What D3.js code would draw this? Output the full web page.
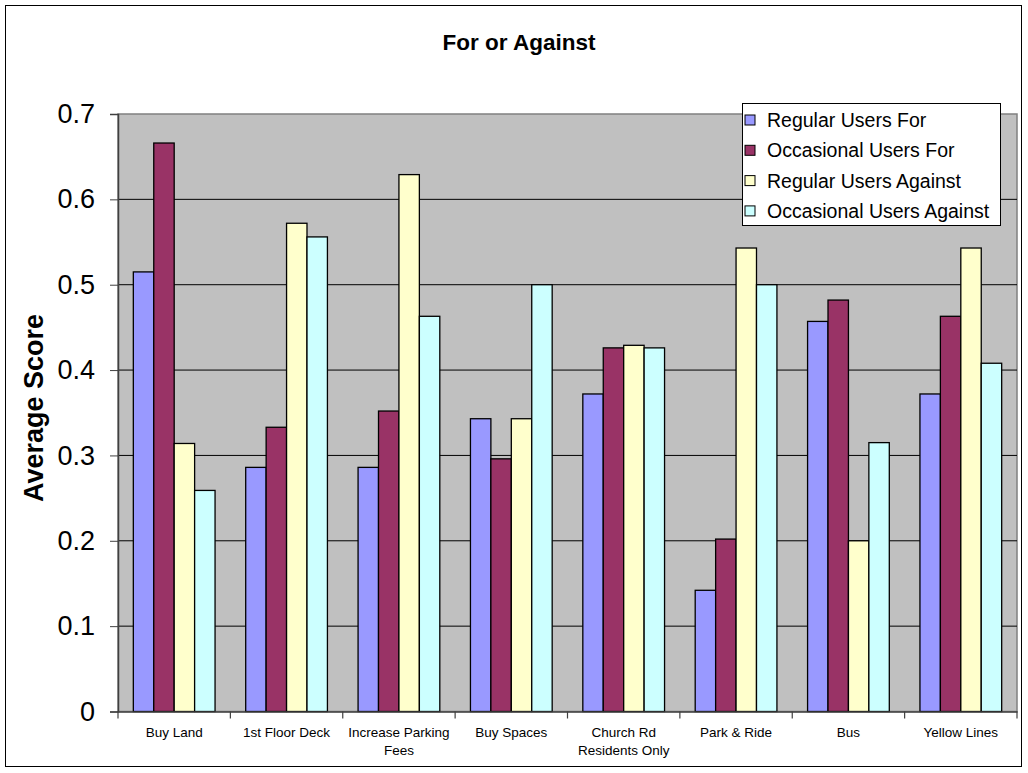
<!DOCTYPE html>
<html>
<head>
<meta charset="utf-8">
<script src="https://cdn.jsdelivr.net/npm/d3@7"></script>
<style>
  body { margin: 0; background: #fff; }
  svg { font-family: "Liberation Sans", Arial, sans-serif; }
</style>
</head>
<body>
<svg width="1028" height="773"></svg>
<script>
// data
const categories = ["Buy Land", "1st Floor Deck", "Increase Parking Fees", "Buy Spaces",
    "Church Rd Residents Only", "Park & Ride", "Bus", "Yellow  Lines"];
const categoryLines = [["Buy Land"], ["1st Floor Deck"], ["Increase Parking", "Fees"], ["Buy Spaces"],
    ["Church Rd", "Residents Only"], ["Park & Ride"], ["Bus"], ["Yellow  Lines"]];
const seriesNames = ["Regular Users For", "Occasional Users For", "Regular Users Against", "Occasional Users Against"];
const regularFor = [0.515, 0.286, 0.286, 0.343, 0.372, 0.142, 0.457, 0.372];
const occasionalFor = [0.666, 0.333, 0.352, 0.296, 0.426, 0.202, 0.482, 0.463];
const regularAgainst = [0.314, 0.572, 0.629, 0.343, 0.429, 0.543, 0.200, 0.543];
const occasionalAgainst = [0.259, 0.556, 0.463, 0.500, 0.426, 0.500, 0.315, 0.408];
const yTicks = [0, 0.1, 0.2, 0.3, 0.4, 0.5, 0.6, 0.7];
const colors = ["#9999ff", "#993366", "#ffffcc", "#ccffff"];

const series = [regularFor, occasionalFor, regularAgainst, occasionalAgainst];

const svg = d3.select("svg");
const width = +svg.attr("width");
const height = +svg.attr("height");

const plot = { left: 118, top: 114, right: 1017, bottom: 711.5 };

// outer chart frame
svg.append("rect")
    .attr("x", 5.5).attr("y", 5.5)
    .attr("width", width - 12).attr("height", height - 12)
    .attr("fill", "#fff").attr("stroke", "#000").attr("stroke-width", 1);

svg.append("text")
    .attr("x", 519).attr("y", 50)
    .attr("text-anchor", "middle")
    .attr("font-size", 22.5).attr("font-weight", "bold")
    .text("For or Against");

const x0 = d3.scaleBand()
    .domain(categories)
    .range([plot.left, plot.right])
    .paddingInner(0).paddingOuter(0);

// excel style: gap width 150% split on both sides of the group
const x1 = d3.scaleBand()
    .domain(d3.range(series.length))
    .range([0, x0.bandwidth()])
    .paddingInner(0)
    .paddingOuter(0.75);

const y = d3.scaleLinear()
    .domain([0, 0.7])
    .range([plot.bottom, plot.top]);

// plot area
svg.append("rect")
    .attr("x", plot.left).attr("y", plot.top)
    .attr("width", plot.right - plot.left).attr("height", plot.bottom - plot.top)
    .attr("fill", "#c0c0c0").attr("stroke", "#808080").attr("stroke-width", 1.5);

// gridlines
svg.append("g")
    .selectAll("line")
    .data(yTicks.filter(t => t > 0 && t < 0.7))
    .join("line")
    .attr("x1", plot.left).attr("x2", plot.right)
    .attr("y1", d => y(d)).attr("y2", d => y(d))
    .attr("stroke", "#000").attr("stroke-width", 1);

// bars
const groups = svg.append("g")
    .selectAll("g")
    .data(categories)
    .join("g")
    .attr("transform", d => `translate(${x0(d)},0)`);

groups.selectAll("rect")
    .data((d, i) => series.map((s, k) => ({ k, v: s[i] })))
    .join("rect")
    .attr("x", d => x1(d.k))
    .attr("width", x1.bandwidth())
    .attr("y", d => y(d.v))
    .attr("height", d => y(0) - y(d.v))
    .attr("fill", d => colors[d.k])
    .attr("stroke", "#000").attr("stroke-width", 1.3);

// y axis
const yAxis = svg.append("g")
    .attr("transform", `translate(${plot.left},0)`)
    .call(d3.axisLeft(y).tickValues(yTicks).tickSize(8).tickPadding(15)
        .tickFormat(d => d === 0 ? "0" : d3.format(".1f")(d)));
yAxis.select(".domain").attr("stroke", "#404040").attr("stroke-width", 1.5);
yAxis.selectAll(".tick line").attr("stroke", "#404040");
yAxis.selectAll("text")
    .attr("font-size", 27).attr("font-family", "Liberation Sans, Arial, sans-serif")
    .attr("fill", "#000");

// x axis
const xAxis = svg.append("g")
    .attr("transform", `translate(0,${plot.bottom})`)
    .call(d3.axisBottom(x0).tickSize(0).tickFormat(""));
xAxis.select(".domain").attr("stroke", "#404040").attr("stroke-width", 1.5);
xAxis.selectAll(".sep")
    .data(d3.range(categories.length + 1))
    .join("line")
    .attr("class", "sep")
    .attr("x1", i => plot.left + i * x0.step())
    .attr("x2", i => plot.left + i * x0.step())
    .attr("y1", 0).attr("y2", 7)
    .attr("stroke", "#404040").attr("stroke-width", 1.2);

const catLabels = svg.append("g")
    .selectAll("text")
    .data(categories)
    .join("text")
    .attr("x", d => x0(d) + x0.bandwidth() / 2)
    .attr("y", 736.5)
    .attr("text-anchor", "middle")
    .attr("font-size", 13.5);
catLabels.selectAll("tspan")
    .data((d, i) => categoryLines[i])
    .join("tspan")
    .attr("x", function () { return d3.select(this.parentNode).attr("x"); })
    .attr("dy", (d, i) => i === 0 ? 0 : 18.5)
    .text(d => d);

// y axis title
svg.append("text")
    .attr("transform", "translate(43,408) rotate(-90)")
    .attr("text-anchor", "middle")
    .attr("font-size", 27).attr("font-weight", "bold")
    .text("Average Score");

// legend
const legend = svg.append("g").attr("transform", "translate(742,103)");
legend.append("rect")
    .attr("x", 0.5).attr("y", 0.5)
    .attr("width", 258).attr("height", 122)
    .attr("fill", "#fff").attr("stroke", "#000").attr("stroke-width", 1);
const items = legend.selectAll("g.item")
    .data(seriesNames)
    .join("g")
    .attr("class", "item")
    .attr("transform", (d, i) => `translate(3,${17 + i * 30.3})`);
items.append("rect")
    .attr("x", 0).attr("y", -5)
    .attr("width", 10).attr("height", 10)
    .attr("fill", (d, i) => colors[i])
    .attr("stroke", "#000").attr("stroke-width", 1);
items.append("text")
    .attr("x", 22).attr("y", 7)
    .attr("font-size", 19.5)
    .text(d => d);
</script>
</body>
</html>
